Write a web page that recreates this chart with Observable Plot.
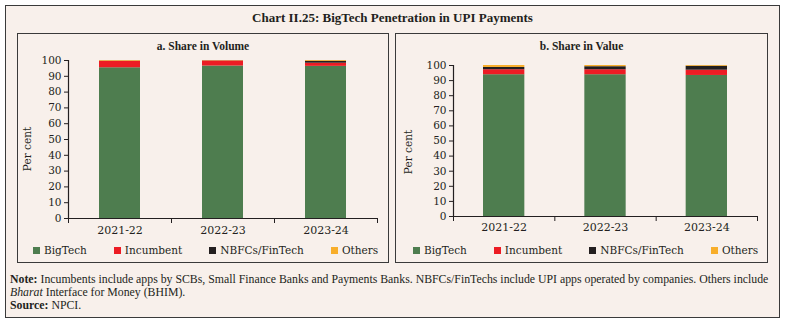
<!DOCTYPE html>
<html>
<head>
<meta charset="utf-8">
<script src="https://cdn.jsdelivr.net/npm/d3@7"></script>
<script src="https://cdn.jsdelivr.net/npm/@observablehq/plot@0.6"></script>
<style>
  html, body { margin: 0; padding: 0; background: #ffffff; }
  #wrap { position: relative; width: 785px; height: 321px; overflow: hidden; }
  #outer { position: absolute; left: 5px; top: 5px; width: 773px; height: 311px;
    background: #f8f0eb; border: 1px solid #3a3a3a; }
  .panel { position: absolute; top: 33px; height: 228px; border: 1px solid #3a3a3a; }
  .title { position: absolute; left: 0; width: 785px; top: 10px; text-align: center;
    font-family: "Liberation Serif", serif; font-weight: bold; font-size: 13px; color: #231f20; }
  .ptitle { position: absolute; text-align: center; top: 40px;
    font-family: "Liberation Serif", serif; font-weight: bold; font-size: 11.5px; color: #231f20; }
  .plot { position: absolute; }
  .ylab { position: absolute; font-family: "DejaVu Serif"; font-size: 10.5px; color: #231f20;
    transform: translate(-50%, -50%) rotate(-90deg); white-space: nowrap; }
  .legend { position: absolute; top: 244px; display: flex; align-items: center;
    font-family: "DejaVu Serif"; font-size: 10.5px; color: #231f20; white-space: nowrap; }
  .legend .item { display: flex; align-items: center; margin-right: 27px; }
  .legend .sw { width: 7px; height: 7px; margin-right: 4px; }
  .note { position: absolute; left: 10px; font-family: "Liberation Serif", serif; font-size: 11.8px;
    color: #231f20; white-space: nowrap; }
</style>
</head>
<body>
<div id="wrap">
  <div id="outer"></div>
  <div class="title">Chart II.25: BigTech Penetration in UPI Payments</div>
  <div class="panel" style="left:17px; width:370px;"></div>
  <div class="panel" style="left:395px; width:371px;"></div>
  <div class="ptitle" style="left:17px; width:372px;">a. Share in Volume</div>
  <div class="ptitle" style="left:395px; width:373px;">b. Share in Value</div>
  <div id="plotA" class="plot" style="left:14px; top:52px;"></div>
  <div id="plotB" class="plot" style="left:400px; top:56px;"></div>
  <div class="ylab" style="left:27px; top:149px;">Per cent</div>
  <div class="ylab" style="left:408px; top:152px;">Per cent</div>
  <div id="legA" class="legend" style="left:33px;"></div>
  <div id="legB" class="legend" style="left:413px;"></div>
  <div class="note" style="top:272px;"><b>Note:</b> Incumbents include apps by SCBs, Small Finance Banks and Payments Banks. NBFCs/FinTechs include UPI apps operated by companies. Others include</div>
  <div class="note" style="top:285px;"><i>Bharat</i> Interface for Money (BHIM).</div>
  <div class="note" style="top:298px;"><b>Source:</b> NPCI.</div>
</div>
<script>
// ---- Data ----
const years = ["2021-22", "2022-23", "2023-24"];
const seriesNames = ["BigTech", "Incumbent", "NBFCs/FinTech", "Others"];
const seriesColors = ["#4e7d4f", "#ec1c24", "#231f20", "#f8ae2a"];
const yTicks = [0, 10, 20, 30, 40, 50, 60, 70, 80, 90, 100];

// a. Share in Volume (per cent)
const volBigTech = [95.4, 96.5, 96.3];
const volIncumbent = [4.1, 3.2, 2.0];
const volNBFC = [0.1, 0.1, 1.2];
const volOthers = [0.4, 0.2, 0.5];

// b. Share in Value (per cent)
const valBigTech = [93.9, 93.9, 93.4];
const valIncumbent = [3.3, 3.3, 3.5];
const valNBFC = [1.5, 2.0, 2.6];
const valOthers = [1.3, 0.8, 0.5];

function buildRows(seriesArrays) {
  const rows = [];
  years.forEach((yr, i) => {
    let acc = 0;
    seriesArrays.forEach((arr, s) => {
      rows.push({i, year: yr, series: seriesNames[s], y1: acc, y2: acc + arr[i]});
      acc += arr[i];
    });
  });
  return rows;
}

function makePlot(rows, opts) {
  return Plot.plot({
    width: opts.width, height: opts.height,
    marginLeft: opts.ml, marginRight: opts.mr, marginTop: opts.mt, marginBottom: opts.mb,
    style: {background: "transparent", fontFamily: "'DejaVu Serif'", fontSize: "10.5px", color: "#231f20", overflow: "visible"},
    x: {type: "linear", domain: [0, years.length], axis: null},
    y: {domain: [0, 100], axis: null},
    color: {domain: seriesNames, range: seriesColors},
    marks: [
      Plot.rectY(rows, {x1: d => d.i, x2: d => d.i + 1, y1: "y1", y2: "y2", fill: "series",
        insetLeft: opts.inset, insetRight: opts.inset}),
      Plot.ruleX([0], {stroke: "#231f20", strokeWidth: 1.2}),
      Plot.ruleY([0], {stroke: "#231f20", strokeWidth: 1.2}),
      Plot.axisY({ticks: yTicks, tickSize: 4, tickPadding: 3, label: null, stroke: "#231f20", fill: "#231f20"}),
      Plot.axisX({ticks: d3.range(0, years.length + 1), tickSize: 5, tickFormat: () => "", label: null, stroke: "#231f20"}),
      Plot.axisX({ticks: years.map((_, i) => i + 0.5), tickSize: 0, tickPadding: opts.tp,
        tickFormat: d => years[Math.floor(d)], label: null, fill: "#231f20", fontSize: "11px"})
    ]
  });
}

document.getElementById("plotA").appendChild(makePlot(
  buildRows([volBigTech, volIncumbent, volNBFC, volOthers]),
  {width: 370, height: 195, ml: 54, mr: 7, mt: 8, mb: 29, inset: 31, tp: 8}));
document.getElementById("plotB").appendChild(makePlot(
  buildRows([valBigTech, valIncumbent, valNBFC, valOthers]),
  {width: 362, height: 190, ml: 53, mr: 5, mt: 9, mb: 30, inset: 30, tp: 7}));

for (const id of ["legA", "legB"]) {
  const leg = document.getElementById(id);
  seriesNames.forEach((name, k) => {
    const item = document.createElement("div");
    item.className = "item";
    const sw = document.createElement("span");
    sw.className = "sw";
    sw.style.background = seriesColors[k];
    const tx = document.createElement("span");
    tx.textContent = name;
    item.appendChild(sw); item.appendChild(tx);
    leg.appendChild(item);
  });
}
</script>
</body>
</html>
